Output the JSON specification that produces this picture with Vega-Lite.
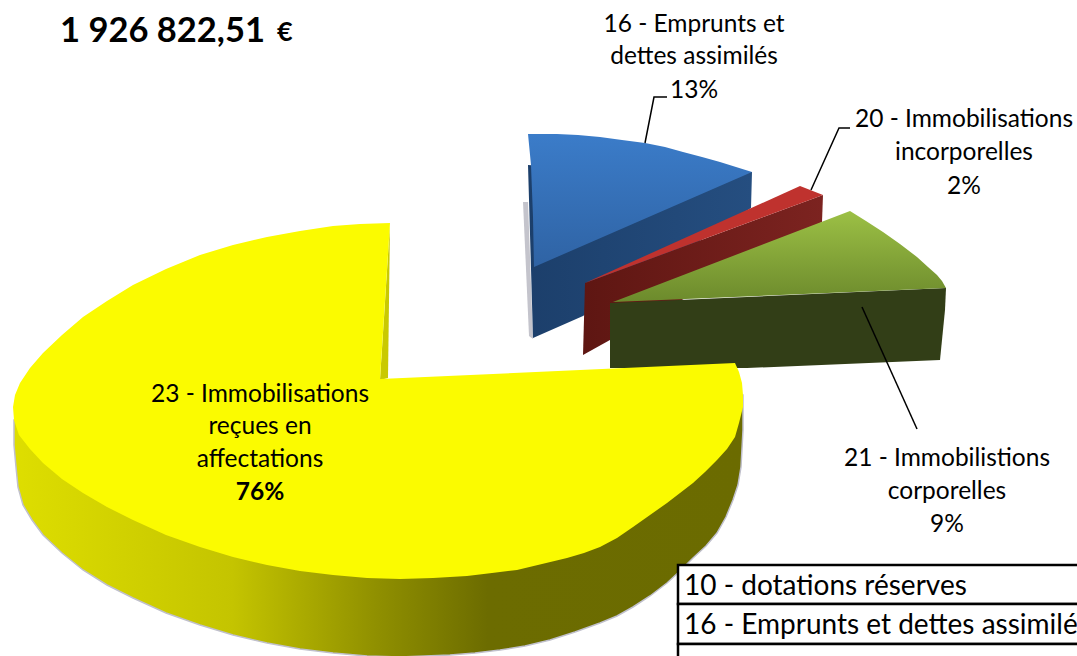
{"$schema":"https://vega.github.io/schema/vega-lite/v6.json","width":1077,"height":656,"padding":0,"autosize":{"type":"none"},"background":"white","config":{"view":{"stroke":null}},
"datasets":{"poly":[
{"s":"ys","i":1,"x":743,"y":395},{"s":"ys","i":2,"x":743,"y":430},{"s":"ys","i":3,"x":741,"y":467},{"s":"ys","i":4,"x":738,"y":485},{"s":"ys","i":5,"x":733,"y":500},{"s":"ys","i":6,"x":726,"y":517},{"s":"ys","i":7,"x":717,"y":533},{"s":"ys","i":8,"x":706,"y":546},{"s":"ys","i":9,"x":693,"y":558},{"s":"ys","i":10,"x":680,"y":571},{"s":"ys","i":11,"x":667,"y":583},{"s":"ys","i":12,"x":650,"y":596},{"s":"ys","i":13,"x":633,"y":607},{"s":"ys","i":14,"x":617,"y":616},{"s":"ys","i":15,"x":600,"y":623},{"s":"ys","i":16,"x":575,"y":632},{"s":"ys","i":17,"x":550,"y":640},{"s":"ys","i":18,"x":525,"y":646},{"s":"ys","i":19,"x":500,"y":650},{"s":"ys","i":20,"x":475,"y":653},{"s":"ys","i":21,"x":450,"y":655},{"s":"ys","i":22,"x":425,"y":656},{"s":"ys","i":23,"x":400,"y":657},{"s":"ys","i":24,"x":367,"y":656},{"s":"ys","i":25,"x":333,"y":653},{"s":"ys","i":26,"x":300,"y":649},{"s":"ys","i":27,"x":267,"y":643},{"s":"ys","i":28,"x":233,"y":635},{"s":"ys","i":29,"x":200,"y":625},{"s":"ys","i":30,"x":166,"y":613},{"s":"ys","i":31,"x":133,"y":598},{"s":"ys","i":32,"x":107,"y":585},{"s":"ys","i":33,"x":83,"y":570},{"s":"ys","i":34,"x":62,"y":553},{"s":"ys","i":35,"x":43,"y":535},{"s":"ys","i":36,"x":32,"y":520},{"s":"ys","i":37,"x":23,"y":505},{"s":"ys","i":38,"x":18,"y":487},{"s":"ys","i":39,"x":16,"y":467},{"s":"ys","i":40,"x":14,"y":445},{"s":"ys","i":41,"x":14,"y":420},
{"s":"yi","i":1,"x":390,"y":224},{"s":"yi","i":2,"x":388,"y":378},{"s":"yi","i":3,"x":380,"y":380},
{"s":"yt","i":1,"x":380,"y":379},{"s":"yt","i":2,"x":390,"y":223},{"s":"yt","i":3,"x":360,"y":224},{"s":"yt","i":4,"x":333,"y":226},{"s":"yt","i":5,"x":300,"y":231},{"s":"yt","i":6,"x":267,"y":237},{"s":"yt","i":7,"x":233,"y":245},{"s":"yt","i":8,"x":200,"y":255},{"s":"yt","i":9,"x":166,"y":269},{"s":"yt","i":10,"x":133,"y":285},{"s":"yt","i":11,"x":107,"y":301},{"s":"yt","i":12,"x":83,"y":317},{"s":"yt","i":13,"x":62,"y":335},{"s":"yt","i":14,"x":43,"y":353},{"s":"yt","i":15,"x":30,"y":368},{"s":"yt","i":16,"x":20,"y":383},{"s":"yt","i":17,"x":15,"y":395},{"s":"yt","i":18,"x":13,"y":407},{"s":"yt","i":19,"x":14,"y":420},{"s":"yt","i":20,"x":19,"y":435},{"s":"yt","i":21,"x":30,"y":449},{"s":"yt","i":22,"x":43,"y":463},{"s":"yt","i":23,"x":62,"y":479},{"s":"yt","i":24,"x":83,"y":493},{"s":"yt","i":25,"x":107,"y":507},{"s":"yt","i":26,"x":133,"y":520},{"s":"yt","i":27,"x":166,"y":535},{"s":"yt","i":28,"x":200,"y":547},{"s":"yt","i":29,"x":233,"y":557},{"s":"yt","i":30,"x":267,"y":565},{"s":"yt","i":31,"x":300,"y":571},{"s":"yt","i":32,"x":333,"y":575},{"s":"yt","i":33,"x":367,"y":578},{"s":"yt","i":34,"x":400,"y":579},{"s":"yt","i":35,"x":433,"y":578},{"s":"yt","i":36,"x":467,"y":576},{"s":"yt","i":37,"x":492,"y":573},{"s":"yt","i":38,"x":517,"y":570},{"s":"yt","i":39,"x":542,"y":564},{"s":"yt","i":40,"x":567,"y":558},{"s":"yt","i":41,"x":584,"y":553},{"s":"yt","i":42,"x":600,"y":547},{"s":"yt","i":43,"x":617,"y":538},{"s":"yt","i":44,"x":633,"y":527},{"s":"yt","i":45,"x":650,"y":515},{"s":"yt","i":46,"x":667,"y":503},{"s":"yt","i":47,"x":680,"y":493},{"s":"yt","i":48,"x":693,"y":483},{"s":"yt","i":49,"x":705,"y":472},{"s":"yt","i":50,"x":717,"y":460},{"s":"yt","i":51,"x":727,"y":449},{"s":"yt","i":52,"x":735,"y":437},{"s":"yt","i":53,"x":739,"y":423},{"s":"yt","i":54,"x":743,"y":407},{"s":"yt","i":55,"x":743,"y":395},{"s":"yt","i":56,"x":742,"y":383},{"s":"yt","i":57,"x":739,"y":372},{"s":"yt","i":58,"x":735,"y":363},
{"s":"bsh","i":1,"x":523,"y":202},{"s":"bsh","i":2,"x":528,"y":202},{"s":"bsh","i":3,"x":533,"y":339},{"s":"bsh","i":4,"x":529,"y":336},
{"s":"bs","i":1,"x":752,"y":172},{"s":"bs","i":2,"x":751,"y":208},{"s":"bs","i":3,"x":583,"y":316},{"s":"bs","i":4,"x":533,"y":338},{"s":"bs","i":5,"x":528,"y":165},{"s":"bs","i":6,"x":600,"y":170},
{"s":"bt","i":1,"x":528,"y":134},{"s":"bt","i":2,"x":557,"y":134},{"s":"bt","i":3,"x":578,"y":135},{"s":"bt","i":4,"x":600,"y":137},{"s":"bt","i":5,"x":622,"y":140},{"s":"bt","i":6,"x":645,"y":143},{"s":"bt","i":7,"x":665,"y":147},{"s":"bt","i":8,"x":683,"y":152},{"s":"bt","i":9,"x":702,"y":157},{"s":"bt","i":10,"x":720,"y":162},{"s":"bt","i":11,"x":736,"y":167},{"s":"bt","i":12,"x":752,"y":172},{"s":"bt","i":13,"x":534,"y":267},{"s":"bt","i":14,"x":533,"y":217},{"s":"bt","i":15,"x":531,"y":165},
{"s":"rs","i":1,"x":585,"y":283},{"s":"rs","i":2,"x":823,"y":195},{"s":"rs","i":3,"x":822,"y":222},{"s":"rs","i":4,"x":583,"y":355},
{"s":"rt","i":1,"x":585,"y":283},{"s":"rt","i":2,"x":800,"y":186},{"s":"rt","i":3,"x":823,"y":195},
{"s":"gs","i":1,"x":610,"y":303},{"s":"gs","i":2,"x":946,"y":288},{"s":"gs","i":3,"x":945,"y":310},{"s":"gs","i":4,"x":940,"y":360},{"s":"gs","i":5,"x":747,"y":368},{"s":"gs","i":6,"x":610,"y":368},
{"s":"gt","i":1,"x":613,"y":302},{"s":"gt","i":2,"x":850,"y":211},{"s":"gt","i":3,"x":866,"y":221},{"s":"gt","i":4,"x":883,"y":232},{"s":"gt","i":5,"x":900,"y":244},{"s":"gt","i":6,"x":917,"y":257},{"s":"gt","i":7,"x":928,"y":267},{"s":"gt","i":8,"x":937,"y":275},{"s":"gt","i":9,"x":942,"y":281},{"s":"gt","i":10,"x":946,"y":288}
],
"leaders":[
{"s":"a","i":1,"x":645,"y":143},{"s":"a","i":2,"x":654,"y":97},{"s":"a","i":3,"x":667,"y":97},
{"s":"b","i":1,"x":811,"y":190},{"s":"b","i":2,"x":839,"y":128},{"s":"b","i":3,"x":850,"y":128},
{"s":"c","i":1,"x":862,"y":307},{"s":"c","i":2,"x":917,"y":429}
],
"labels":[
{"t":"16 - Emprunts et","x":694,"y":25},{"t":"dettes assimilés","x":694,"y":57},{"t":"13%","x":694,"y":91},
{"t":"20 - Immobilisations","x":964,"y":120},{"t":"incorporelles","x":964,"y":153},{"t":"2%","x":964,"y":187},
{"t":"21 - Immobilistions","x":947,"y":459},{"t":"corporelles","x":947,"y":492},{"t":"9%","x":947,"y":525},
{"t":"23 - Immobilisations","x":260,"y":395},{"t":"reçues en","x":260,"y":427},{"t":"affectations","x":260,"y":460}
],
"table":[{"x":678,"x2":1100,"y":565,"y2":604},{"x":678,"x2":1100,"y":604,"y2":644},{"x":678,"x2":1100,"y":644,"y2":700}],
"tabletext":[{"t":"10 - dotations réserves","x":684,"y":587},{"t":"16 - Emprunts et dettes assimilés","x":684,"y":626},{"t":"20 - Immobilisations incorporelles","x":684,"y":672}]
},
"encoding":{
"x":{"field":"x","type":"quantitative","axis":null,"scale":{"domain":[0,1077],"nice":false,"zero":false}},
"y":{"field":"y","type":"quantitative","axis":null,"scale":{"domain":[656,0],"nice":false,"zero":false}}
},
"layer":[
{"data":{"name":"poly"},"transform":[{"filter":"datum.s=='bsh'"}],"mark":{"type":"line","interpolate":"linear-closed","fill":"#c4c4cc","strokeWidth":0},"encoding":{"order":{"field":"i"}}},
{"data":{"name":"poly"},"transform":[{"filter":"datum.s=='bs'"}],"mark":{"type":"line","interpolate":"linear-closed","strokeWidth":0,"fill":{"gradient":"linear","x1":0,"x2":1,"y1":0,"y2":0,"stops":[{"offset":0,"color":"#1c3f6b"},{"offset":1,"color":"#254e80"}]}},"encoding":{"order":{"field":"i"}}},
{"data":{"name":"poly"},"transform":[{"filter":"datum.s=='bt'"}],"mark":{"type":"line","interpolate":"linear-closed","strokeWidth":0,"fill":{"gradient":"linear","x1":0,"x2":0,"y1":0,"y2":1,"stops":[{"offset":0,"color":"#3b7cc9"},{"offset":1,"color":"#2f63a4"}]}},"encoding":{"order":{"field":"i"}}},
{"data":{"name":"poly"},"transform":[{"filter":"datum.s=='rs'"}],"mark":{"type":"line","interpolate":"linear-closed","strokeWidth":0,"fill":{"gradient":"linear","x1":0,"x2":1,"y1":0,"y2":0,"stops":[{"offset":0,"color":"#5e1612"},{"offset":1,"color":"#7c2320"}]}},"encoding":{"order":{"field":"i"}}},
{"data":{"name":"poly"},"transform":[{"filter":"datum.s=='rt'"}],"mark":{"type":"line","interpolate":"linear-closed","strokeWidth":0,"fill":"#bf322e"},"encoding":{"order":{"field":"i"}}},
{"data":{"name":"poly"},"transform":[{"filter":"datum.s=='gs'"}],"mark":{"type":"line","interpolate":"linear-closed","strokeWidth":0,"fill":"#323e17"},"encoding":{"order":{"field":"i"}}},
{"data":{"name":"poly"},"transform":[{"filter":"datum.s=='gt'"}],"mark":{"type":"line","interpolate":"linear-closed","strokeWidth":0,"fill":{"gradient":"linear","x1":0,"x2":0,"y1":0,"y2":1,"stops":[{"offset":0,"color":"#9cc045"},{"offset":1,"color":"#6c8a2c"}]}},"encoding":{"order":{"field":"i"}}},
{"data":{"name":"poly"},"transform":[{"filter":"datum.s=='ys'"}],"mark":{"type":"line","interpolate":"linear-closed","stroke":"#c0c0cc","strokeWidth":1.5,"fill":{"gradient":"linear","x1":0,"x2":1,"y1":0,"y2":0,"stops":[{"offset":0,"color":"#dede00"},{"offset":0.3,"color":"#c4c400"},{"offset":0.5,"color":"#8f8f00"},{"offset":0.65,"color":"#6c6c00"},{"offset":1,"color":"#6b6b00"}]}},"encoding":{"order":{"field":"i"}}},
{"data":{"name":"poly"},"transform":[{"filter":"datum.s=='yi'"}],"mark":{"type":"line","interpolate":"linear-closed","strokeWidth":0,"fill":"#c9c900"},"encoding":{"order":{"field":"i"}}},
{"data":{"name":"poly"},"transform":[{"filter":"datum.s=='yt'"}],"mark":{"type":"line","interpolate":"linear-closed","strokeWidth":0,"fill":"#fbfb00"},"encoding":{"order":{"field":"i"}}},
{"data":{"name":"leaders"},"mark":{"type":"line","color":"black","strokeWidth":1.5},"encoding":{"detail":{"field":"s"},"order":{"field":"i"}}},
{"data":{"name":"labels"},"mark":{"type":"text","font":"Lato","fontSize":24.5,"align":"center","baseline":"middle","color":"black"},"encoding":{"text":{"field":"t"}}},
{"data":{"values":[{"t":"76%","x":260,"y":493}]},"mark":{"type":"text","font":"Lato","fontSize":24.5,"fontWeight":"bold","align":"center","baseline":"middle","color":"black"},"encoding":{"text":{"field":"t"}}},
{"data":{"values":[{"t":"1 926 822,51","x":60,"y":32}]},"mark":{"type":"text","font":"Lato","fontSize":34.5,"fontWeight":"bold","align":"left","baseline":"middle","color":"black"},"encoding":{"text":{"field":"t"}}},
{"data":{"values":[{"t":"€","x":277,"y":33}]},"mark":{"type":"text","font":"Lato","fontSize":27,"fontWeight":"bold","align":"left","baseline":"middle","color":"black"},"encoding":{"text":{"field":"t"}}},
{"data":{"name":"table"},"mark":{"type":"rect","fill":"white","stroke":"black","strokeWidth":2.5},"encoding":{"x2":{"field":"x2"},"y2":{"field":"y2"}}},
{"data":{"name":"tabletext"},"mark":{"type":"text","font":"Lato","fontSize":28,"align":"left","baseline":"middle","color":"black"},"encoding":{"text":{"field":"t"}}}
]}
